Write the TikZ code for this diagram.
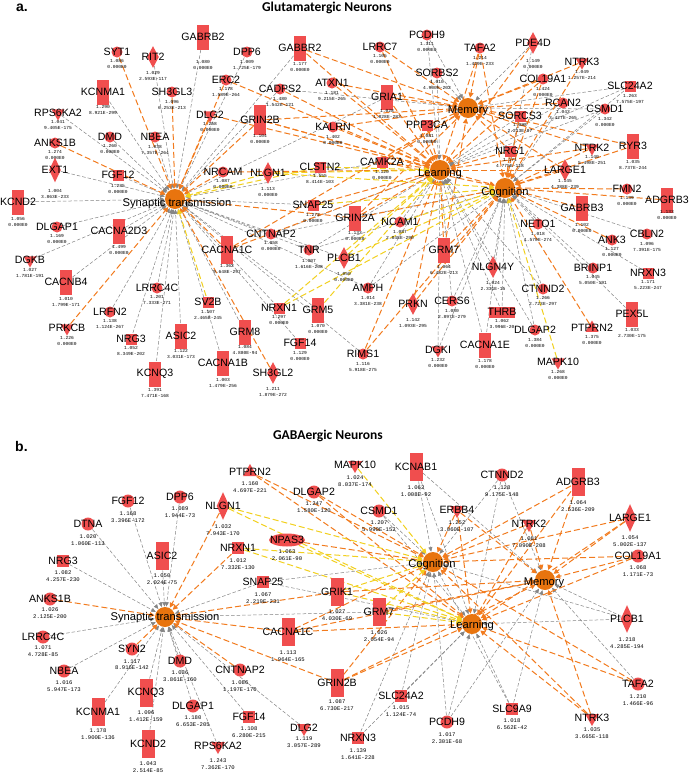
\documentclass[tikz,border=0pt]{standalone}
\usepackage{fontspec}
\setmainfont{Liberation Sans}
\newfontfamily\valfont{Liberation Mono}
\newfontfamily\titlefont{Carlito}
\usetikzlibrary{shapes.geometric,arrows.meta}
\pgfdeclarelayer{bot}
\pgfdeclarelayer{bg}
\pgfsetlayers{bot,bg,main}
\definecolor{nred}{HTML}{F04E4E}
\definecolor{hubc}{HTML}{E8740E}
\definecolor{eor}{HTML}{F27B1E}
\definecolor{eye}{HTML}{F2D01E}
\definecolor{egr}{HTML}{858585}
\tikzset{
 gshape/.style={fill=nred, draw=none, inner sep=0pt, outer sep=0.5pt},
 gc/.style={gshape, circle, minimum size=11pt},
 gr/.style={gshape, rectangle, minimum width=12pt, minimum height=25pt},
 gs/.style={gshape, rectangle, minimum width=11pt, minimum height=11pt},
 gw/.style={gshape, rectangle, minimum width=26pt, minimum height=11pt},
 gd/.style={gshape, diamond, minimum width=12pt, minimum height=22pt},
 gt/.style={gshape, regular polygon, regular polygon sides=3, shape border rotate=180, minimum size=15pt},
 gu/.style={gshape, regular polygon, regular polygon sides=3, minimum size=15pt},
 ge/.style={gshape, ellipse, minimum width=36pt, minimum height=13pt},
 glab/.style={font=\fontsize{10.6}{11}\selectfont, inner sep=0pt},
 gval/.style={font=\valfont\fontsize{4.6}{5.6}\selectfont, align=center, inner sep=0pt, anchor=north},
 hubn/.style={circle, fill=hubc, minimum size=20pt, inner sep=0pt, outer sep=0.5pt},
 hlab/.style={font=\fontsize{11.2}{12}\selectfont, inner sep=0pt},
 eg/.style={draw=egr, line width=0.5pt, dash pattern=on 3.5pt off 2pt, -{Triangle[length=4.5pt,width=4pt]}},
 eo/.style={draw=eor, line width=1.0pt, dash pattern=on 6pt off 3pt, -{Triangle[length=5pt,width=5pt]}},
 ey/.style={draw=eye, line width=1.0pt, dash pattern=on 6pt off 3pt, -{Triangle[length=5pt,width=5pt]}},
}
\newcommand{\gn}[8]{%
 \node[#2] (#1) at (#3,#4) {};
 \node[glab] (#1-l) at (#3,#4) {#5};
 \node[gval] (#1-v) at (#3,#8-2.5) {#6\\#7};
}
\begin{document}
\begin{tikzpicture}[x=1pt,y=-1pt]
\useasboundingbox (0,0) rectangle (690,774);
\begin{pgfonlayer}{bot}
\fill[white] (0,0) rectangle (690,774);
\end{pgfonlayer}
% ---------------- Panel a ----------------
\node[font=\bfseries\fontsize{14}{15}\selectfont, anchor=base west, inner sep=0pt] (labA) at (16,11) {a.};
\node[font=\titlefont\bfseries\fontsize{13.5}{15}\selectfont, anchor=base, inner sep=0pt] (titA) at (327,11) {Glutamatergic Neurons};
\node[hubn] (aS) at (175,199) {};
\node[hubn] (aL) at (440,170) {};
\node[hubn] (aC) at (505,188) {};
\node[hubn] (aM) at (468,108) {};
\gn{aGABRB2}{gr}{203}{37}{GABRB2}{1.080}{0.000E0}{63}
\gn{aSYT1}{gc}{117}{52}{SYT1}{1.086}{0.000E0}{62}
\gn{aRIT2}{gd}{153}{57}{RIT2}{1.029}{2.593E-117}{74}
\gn{aDPP6}{gc}{247}{52}{DPP6}{1.009}{1.725E-179}{63}
\gn{aGABBR2}{gr}{300}{48}{GABBR2}{1.177}{0.000E0}{65}
\gn{aLRRC7}{gc}{380}{47}{LRRC7}{1.105}{0.000E0}{57}
\gn{aPCDH9}{gc}{427}{35}{PCDH9}{1.311}{0.000E0}{45}
\gn{aTAFA2}{gc}{480}{48}{TAFA2}{1.214}{1.429E-233}{59}
\gn{aPDE4D}{gd}{533}{43}{PDE4D}{1.149}{0.000E0}{62}
\gn{aNTRK3}{gt}{582}{62}{NTRK3}{1.049}{1.257E-214}{73}
\gn{aCOL19A1}{gc}{543}{79}{COL19A1}{1.424}{0.000E0}{90}
\gn{aSLC24A2}{gs}{630}{86}{SLC24A2}{1.263}{7.575E-197}{97}
\gn{aERC2}{gc}{226}{80}{ERC2}{1.178}{1.589E-264}{90}
\gn{aKCNMA1}{gr}{103}{92}{KCNMA1}{1.290}{8.921E-299}{108}
\gn{aSH3GL3}{gc}{172}{92}{SH3GL3}{1.096}{6.253E-213}{103}
\gn{aSORBS2}{gc}{437}{73}{SORBS2}{1.010}{4.900E-202}{83}
\gn{aCADPS2}{gc}{280}{89}{CADPS2}{1.480}{1.542E-121}{100}
\gn{aATXN1}{gc}{332}{83}{ATXN1}{1.181}{9.215E-265}{94}
\gn{aGRIA1}{gr}{387}{97}{GRIA1}{1.028}{1.828E-283}{112}
\gn{aRCAN2}{gc}{563}{103}{RCAN2}{1.043}{3.427E-265}{113}
\gn{aCSMD1}{gc}{605}{109}{CSMD1}{1.342}{0.000E0}{120}
\gn{aSORCS3}{gs}{520}{116}{SORCS3}{1.088}{2.213E-97}{126}
\gn{aRPS6KA2}{gt}{58}{113}{RPS6KA2}{1.041}{9.405E-175}{123}
\gn{aDLG2}{gt}{210}{115}{DLG2}{1.258}{0.000E0}{125}
\gn{aGRIN2B}{gr,minimum height=30pt}{260}{120}{GRIN2B}{1.104}{0.000E0}{137}
\gn{aKALRN}{gc}{333}{127}{KALRN}{1.402}{0.000E0}{138}
\gn{aPPP3CA}{gs}{427}{125}{PPP3CA}{1.081}{0.000E0}{137}
\gn{aANKS1B}{gc}{55}{143}{ANKS1B}{1.274}{0.000E0}{153}
\gn{aDMD}{gc}{110}{137}{DMD}{1.260}{0.000E0}{147}
\gn{aNBEA}{gc}{155}{137}{NBEA}{1.038}{7.357E-264}{148}
\gn{aNTRK2}{gt}{592}{148}{NTRK2}{1.140}{5.498E-251}{158}
\gn{aRYR3}{gr}{633}{146}{RYR3}{1.035}{8.737E-244}{163}
\gn{aNRG1}{gs}{510}{151}{NRG1}{1.171}{4.775E-118}{161}
\gn{aCAMK2A}{gs}{382}{162}{CAMK2A}{1.120}{0.000E0}{173}
\gn{aEXT1}{gd,minimum height=25pt}{55}{170}{EXT1}{1.004}{3.863E-233}{192}
\gn{aFGF12}{gs}{118}{175}{FGF12}{1.235}{0.000E0}{187}
\gn{aNRCAM}{gc}{223}{172}{NRCAM}{1.087}{0.000E0}{182}
\gn{aNLGN1}{gd}{268}{173}{NLGN1}{1.113}{0.000E0}{190}
\gn{aCLSTN2}{gs}{320}{167}{CLSTN2}{1.555}{8.414E-103}{177}
\gn{aLARGE1}{gd}{565}{170}{LARGE1}{1.145}{4.388E-239}{182}
\gn{aFMN2}{gc}{627}{189}{FMN2}{1.139}{0.000E0}{199}
\gn{aADGRB3}{gr}{667}{200}{ADGRB3}{1.133}{0.000E0}{213}
\gn{aKCND2}{gr}{18}{202}{KCND2}{1.056}{0.000E0}{220}
\gn{aGABRB3}{gr}{582}{208}{GABRB3}{1.102}{0.000E0}{226}
\gn{aSNAP25}{gs}{313}{205}{SNAP25}{1.272}{0.000E0}{216}
\gn{aGRIN2A}{gr}{355}{218}{GRIN2A}{1.133}{0.000E0}{234}
\gn{aNCAM1}{gc}{400}{222}{NCAM1}{1.087}{2.848E-290}{233}
\gn{aDLGAP1}{gc}{57}{227}{DLGAP1}{1.169}{0.000E0}{237}
\gn{aCACNA2D3}{gr}{119}{231}{CACNA2D3}{1.499}{0.000E0}{248}
\gn{aNETO1}{gc}{538}{224}{NETO1}{1.018}{1.570E-274}{235}
\gn{aCNTNAP2}{gc}{271}{234}{CNTNAP2}{1.058}{0.000E0}{244}
\gn{aCBLN2}{gc}{647}{234}{CBLN2}{1.096}{7.391E-175}{245}
\gn{aANK3}{gc}{612}{240}{ANK3}{1.127}{0.000E0}{250}
\gn{aCACNA1C}{gr,minimum height=28pt}{227}{250}{CACNA1C}{1.362}{9.648E-297}{267}
\gn{aTNR}{gc}{309}{250}{TNR}{1.007}{1.616E-208}{262}
\gn{aGRM7}{gr}{444}{250}{GRM7}{1.064}{6.482E-213}{268}
\gn{aPLCB1}{gd}{344}{258}{PLCB1}{1.050}{0.000E0}{275}
\gn{aDGKB}{gt}{30}{260}{DGKB}{1.027}{1.781E-191}{271}
\gn{aNLGN4Y}{gd}{493}{267}{NLGN4Y}{1.024}{2.331E-15}{284}
\gn{aBRINP1}{gc}{593}{268}{BRINP1}{1.045}{5.050E-191}{278}
\gn{aNRXN3}{gs}{648}{273}{NRXN3}{1.171}{5.223E-247}{283}
\gn{aCACNB4}{gr}{66}{282}{CACNB4}{1.010}{1.799E-171}{300}
\gn{aLRRC4C}{gc}{157}{288}{LRRC4C}{1.201}{7.333E-271}{298}
\gn{aAMPH}{gc}{368}{288}{AMPH}{1.014}{3.381E-238}{299}
\gn{aCTNND2}{gc}{543}{289}{CTNND2}{1.266}{2.723E-297}{299}
\gn{aCERS6}{gc}{452}{301}{CERS6}{1.080}{2.897E-279}{312}
\gn{aSV2B}{gs}{208}{302}{SV2B}{1.107}{2.465E-245}{313}
\gn{aPRKN}{gd}{413}{304}{PRKN}{1.142}{1.093E-295}{321}
\gn{aNRXN1}{gs}{279}{308}{NRXN1}{1.297}{0.000E0}{318}
\gn{aGRM5}{gr}{318}{310}{GRM5}{1.070}{0.000E0}{327}
\gn{aLRFN2}{gc}{110}{312}{LRFN2}{1.138}{1.124E-267}{322}
\gn{aTHRB}{gw}{502}{312}{THRB}{1.062}{3.996E-20}{322}
\gn{aPEX5L}{gr}{632}{314}{PEX5L}{1.033}{2.730E-175}{331}
\gn{aPRKCB}{gt}{67}{328}{PRKCB}{1.226}{0.000E0}{339}
\gn{aPTPRN2}{gu}{592}{328}{PTPRN2}{1.375}{0.000E0}{338}
\gn{aDLGAP2}{gc}{535}{330}{DLGAP2}{1.384}{0.000E0}{341}
\gn{aGRM8}{gr}{245}{332}{GRM8}{1.084}{4.880E-94}{348}
\gn{aASIC2}{gr}{181}{336}{ASIC2}{1.122}{3.031E-173}{352}
\gn{aNRG3}{gs}{131}{339}{NRG3}{1.052}{8.349E-202}{349}
\gn{aFGF14}{gs}{300}{343}{FGF14}{1.129}{0.000E0}{354}
\gn{aCACNA1E}{gr}{485}{345}{CACNA1E}{1.178}{0.000E0}{362}
\gn{aDGKI}{gt}{438}{350}{DGKI}{1.232}{0.000E0}{361}
\gn{aRIMS1}{gc}{363}{354}{RIMS1}{1.116}{5.918E-275}{365}
\gn{aMAPK10}{gt}{558}{362}{MAPK10}{1.268}{0.000E0}{373}
\gn{aCACNA1B}{gr}{223}{363}{CACNA1B}{1.003}{1.479E-256}{381}
\gn{aSH3GL2}{gd}{273}{373}{SH3GL2}{1.211}{1.879E-272}{390}
\gn{aKCNQ3}{gr}{155}{374}{KCNQ3}{1.391}{7.471E-168}{391}
\node[hlab] (aS-l) at (177,204) {Synaptic transmission};
\node[hlab] (aL-l) at (440,174) {Learning};
\node[hlab] (aC-l) at (505,193) {Cognition};
\node[hlab] (aM-l) at (468,111) {Memory};
\begin{pgfonlayer}{bg}
\foreach \s in {GABRB2,RIT2,KCNMA1,RPS6KA2,DMD,NBEA,EXT1,FGF12,DPP6,KCND2,DLGAP1,CACNA2D3,DGKB,CACNB4,LRFN2,LRRC4C,NRG3,KCNQ3,ASIC2,CACNA1B,SNAP25,CNTNAP2,NRXN1,GRM5,FGF14,CAMK2A,RIMS1,PLCB1,TNR,AMPH,GABBR2,GRM8,CADPS2,GRIA1} \draw[eg] (a\s) -- (aS);
\foreach \s in {CNTNAP2,AMPH,NCAM1,TNR,CERS6,DGKI,CACNA1E,THRB,NLGN4Y,SORCS3,SLC24A2,CSMD1,RCAN2,DLGAP2,CTNND2,SORBS2,PCDH9} \draw[eg] (a\s) -- (aL);
\foreach \s in {CNTNAP2,AMPH,CERS6,DGKI,CACNA1E,THRB,NLGN4Y,CTNND2,DLGAP2,BRINP1,PEX5L,NRXN3,CBLN2,NETO1,CSMD1,SLC24A2,RCAN2,PDE4D,TNR} \draw[eg] (a\s) -- (aC);
\foreach \s in {PCDH9,SORBS2,PDE4D,SLC24A2,CSMD1,CADPS2} \draw[eg] (a\s) -- (aM);
\foreach \s in {SYT1,SH3GL3,DLG2,ERC2,ANKS1B,NRCAM,PRKCB,CACNA1C,SH3GL2,GRIN2B,GRIN2A} \draw[eo] (a\s) -- (aS);
\foreach \s in {GRIN2B,GRIN2A,NRCAM,CAMK2A,KALRN,ATXN1,GABBR2,GRIA1,PPP3CA,SNAP25,RIMS1,PRKN,CACNA1C,GRM7,NRG1,TAFA2,PDE4D,COL19A1,NTRK2,LARGE1,ERC2,DLG2,CADPS2,LRRC7} \draw[eo] (a\s) -- (aL);
\foreach \s in {GRIN2A,GRIN2B,PRKN,GRM7,PTPRN2,ANK3,GABRB3,ADGRB3,FMN2,LARGE1,NTRK2,RYR3,NRG1,SORCS3,COL19A1,NTRK3,TAFA2,CAMK2A,RIMS1} \draw[eo] (a\s) -- (aC);
\foreach \s in {LRRC7,GRIA1,PPP3CA,ATXN1,KALRN,GABBR2,GRIN2B,GRIN2A,CAMK2A,TAFA2,NTRK3,COL19A1,RCAN2,SORCS3,NRG1,NTRK2,LARGE1,CACNA1C,GRM7,RYR3} \draw[eo] (a\s) -- (aM);
\foreach \s in {SV2B,NLGN1,CLSTN2} \draw[ey] (a\s) -- (aS);
\foreach \s in {NLGN1,NRXN1,GRM5,PLCB1,CLSTN2} \draw[ey] (a\s) -- (aL);
\foreach \s in {NRXN1,NLGN1,SNAP25,NCAM1,PLCB1,MAPK10} \draw[ey] (a\s) -- (aC);
\end{pgfonlayer}
% ---------------- Panel b ----------------
\node[font=\bfseries\fontsize{14}{15}\selectfont, anchor=base west, inner sep=0pt] (labB) at (15,451) {b.};
\node[font=\titlefont\bfseries\fontsize{13.5}{15}\selectfont, anchor=base, inner sep=0pt] (titB) at (328,439) {GABAergic Neurons};
\begin{scope}[
 gc/.style={gshape, circle, minimum size=13pt},
 gr/.style={gshape, rectangle, minimum width=13pt, minimum height=28pt},
 gs/.style={gshape, rectangle, minimum width=12pt, minimum height=12pt},
 gd/.style={gshape, diamond, minimum width=13pt, minimum height=28pt},
 gt/.style={gshape, regular polygon, regular polygon sides=3, shape border rotate=180, minimum size=16pt},
 gu/.style={gshape, regular polygon, regular polygon sides=3, minimum size=16pt},
 gval/.style={font=\valfont\fontsize{5.6}{6.6}\selectfont, align=center, inner sep=0pt, anchor=north}]
\node[hubn] (bS) at (165,617) {};
\node[hubn] (bC) at (433,562) {};
\node[hubn] (bM) at (545,580) {};
\node[hubn] (bL) at (472,624) {};
\gn{bFGF12}{gc}{128}{501}{FGF12}{1.168}{3.396E-172}{514}
\gn{bDPP6}{gc}{180}{497}{DPP6}{1.089}{1.944E-73}{509}
\gn{bNLGN1}{gd}{223}{506}{NLGN1}{1.032}{7.943E-170}{527}
\gn{bPTPRN2}{gu}{250}{472}{PTPRN2}{1.160}{4.697E-221}{484}
\gn{bMAPK10}{gt}{355}{465}{MAPK10}{1.024}{8.037E-174}{478}
\gn{bKCNAB1}{gr}{416}{467}{KCNAB1}{1.062}{1.008E-92}{488}
\gn{bDLGAP2}{gc}{314}{492}{DLGAP2}{1.247}{1.580E-120}{504}
\gn{bCSMD1}{gc}{379}{511}{CSMD1}{1.207}{5.990E-152}{523}
\gn{bCTNND2}{gc}{502}{475}{CTNND2}{1.128}{9.175E-148}{488}
\gn{bADGRB3}{gr}{578}{482}{ADGRB3}{1.064}{2.536E-209}{503}
\gn{bDTNA}{gc}{88}{524}{DTNA}{1.020}{1.060E-113}{537}
\gn{bERBB4}{gt}{457}{510}{ERBB4}{1.252}{3.060E-107}{523}
\gn{bNTRK2}{gt}{529}{524}{NTRK2}{1.081}{7.090E-208}{539}
\gn{bLARGE1}{gd}{630}{518}{LARGE1}{1.054}{5.002E-137}{538}
\gn{bNPAS3}{ge}{287}{540}{NPAS3}{1.063}{2.061E-90}{552}
\gn{bNRXN1}{gs}{238}{548}{NRXN1}{1.012}{7.332E-130}{561}
\gn{bCOL19A1}{gc}{638}{556}{COL19A1}{1.068}{1.171E-73}{568}
\gn{bASIC2}{gr}{162}{556}{ASIC2}{1.050}{2.024E-75}{576}
\gn{bNRG3}{gs}{63}{561}{NRG3}{1.082}{4.257E-230}{573}
\gn{bSNAP25}{gs}{263}{582}{SNAP25}{1.067}{2.219E-231}{595}
\gn{bGRIK1}{gr}{337}{592}{GRIK1}{1.027}{4.030E-69}{612}
\gn{bANKS1B}{gc}{50}{599}{ANKS1B}{1.026}{2.125E-200}{610}
\gn{bGRM7}{gr}{379}{612}{GRM7}{1.026}{2.054E-94}{633}
\gn{bPLCB1}{gd}{627}{619}{PLCB1}{1.218}{4.285E-194}{640}
\gn{bCACNA1C}{gr}{288}{632}{CACNA1C}{1.113}{1.964E-165}{653}
\gn{bLRRC4C}{gc}{43}{637}{LRRC4C}{1.071}{4.728E-85}{648}
\gn{bSYN2}{gc}{132}{649}{SYN2}{1.117}{8.916E-142}{662}
\gn{bDMD}{gc}{180}{661}{DMD}{1.036}{3.861E-160}{673}
\gn{bCNTNAP2}{gc}{240}{670}{CNTNAP2}{1.086}{1.197E-170}{683}
\gn{bNBEA}{gc}{64}{671}{NBEA}{1.016}{5.947E-173}{683}
\gn{bGRIN2B}{gr}{337}{683}{GRIN2B}{1.087}{6.730E-217}{702}
\gn{bTAFA2}{gc}{638}{684}{TAFA2}{1.210}{1.466E-96}{697}
\gn{bKCNQ3}{gr}{146}{693}{KCNQ3}{1.096}{1.412E-159}{713}
\gn{bSLC24A2}{gs}{401}{696}{SLC24A2}{1.015}{1.124E-74}{708}
\gn{bDLGAP1}{gc}{193}{706}{DLGAP1}{1.180}{6.653E-205}{718}
\gn{bSLC9A9}{gs}{512}{709}{SLC9A9}{1.018}{6.562E-42}{721}
\gn{bKCNMA1}{gr}{98}{712}{KCNMA1}{1.178}{1.900E-136}{731}
\gn{bFGF14}{gs}{249}{717}{FGF14}{1.108}{6.280E-215}{729}
\gn{bNTRK3}{gt}{592}{718}{NTRK3}{1.035}{3.665E-118}{730}
\gn{bPCDH9}{gc}{447}{722}{PCDH9}{1.017}{2.301E-68}{735}
\gn{bDLG2}{gt}{304}{728}{DLG2}{1.119}{3.057E-289}{739}
\gn{bNRXN3}{gs}{358}{738}{NRXN3}{1.139}{1.641E-228}{751}
\gn{bKCND2}{gr}{148}{744}{KCND2}{1.043}{2.514E-85}{764}
\gn{bRPS6KA2}{gt}{218}{746}{RPS6KA2}{1.243}{7.362E-170}{761}
\node[hlab] (bS-l) at (165,618) {Synaptic transmission};
\node[hlab] (bC-l) at (432,565) {Cognition};
\node[hlab] (bM-l) at (544,583) {Memory};
\node[hlab] (bL-l) at (472,626) {Learning};
\begin{pgfonlayer}{bg}
\foreach \s in {FGF12,DPP6,DTNA,ASIC2,NRG3,LRRC4C,NBEA,KCNQ3,KCNMA1,DMD,DLGAP1,KCND2,RPS6KA2,FGF14,DLG2,SNAP25,GRM7} \draw[eg] (b\s) -- (bS);
\foreach \s in {CSMD1,KCNAB1,CTNND2,SNAP25,SLC24A2,NRXN3,PCDH9,PLCB1,SLC9A9} \draw[eg] (b\s) -- (bC);
\foreach \s in {CTNND2,KCNAB1,PLCB1,TAFA2,SLC9A9,PCDH9} \draw[eg] (b\s) -- (bM);
\foreach \s in {SLC24A2,NRXN3,PCDH9,SLC9A9,PLCB1,KCNAB1,CSMD1,SNAP25,CTNND2} \draw[eg] (b\s) -- (bL);
\foreach \s in {NLGN1,NRXN1,ANKS1B,SYN2,CNTNAP2,GRIK1,CACNA1C,GRIN2B} \draw[eo] (b\s) -- (bS);
\foreach \s in {PTPRN2,NPAS3,ERBB4,NTRK2,ADGRB3,CACNA1C,GRIN2B,LARGE1,COL19A1,TAFA2,NTRK3,DLGAP2} \draw[eo] (b\s) -- (bC);
\foreach \s in {ADGRB3,NTRK2,LARGE1,COL19A1,NTRK3,GRIN2B,CACNA1C,GRIK1,GRM7,ERBB4} \draw[eo] (b\s) -- (bM);
\foreach \s in {GRIN2B,CACNA1C,TAFA2,NTRK3,ERBB4,ADGRB3,LARGE1,COL19A1,PTPRN2,DLGAP2,NTRK2} \draw[eo] (b\s) -- (bL);
\foreach \s in {NLGN1,NRXN1,MAPK10,GRIK1,GRM7} \draw[ey] (b\s) -- (bC);
\foreach \s in {NLGN1,NPAS3,NRXN1,GRIK1,GRM7} \draw[ey] (b\s) -- (bL);
\end{pgfonlayer}
\end{scope}
\end{tikzpicture}
\end{document}
